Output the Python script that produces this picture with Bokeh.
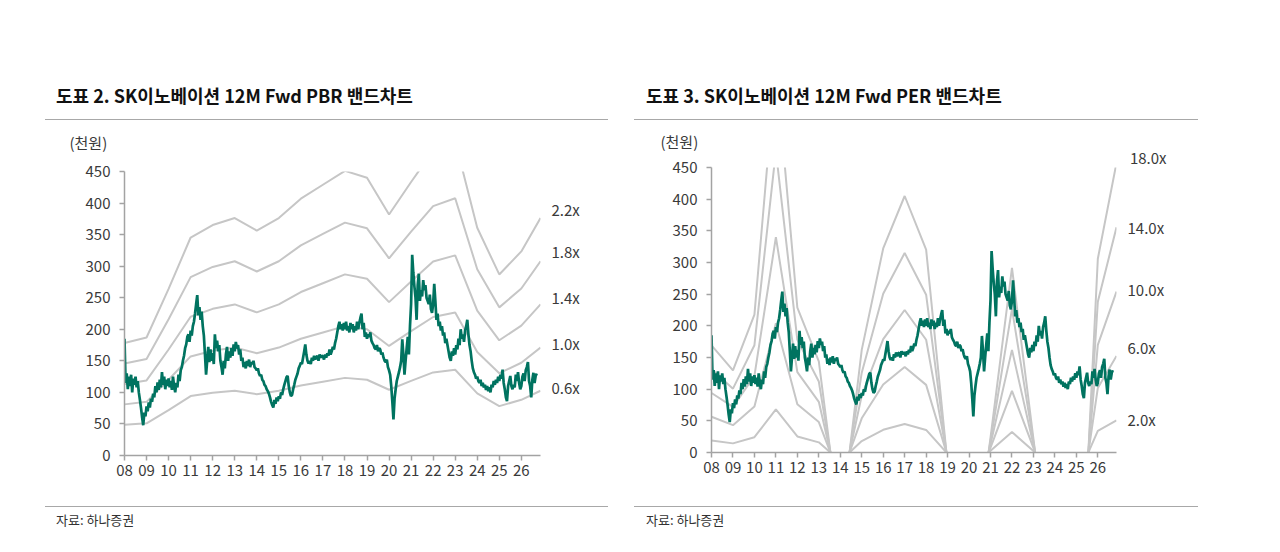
import numpy as np
from bokeh.plotting import figure
from bokeh.models import FixedTicker, Range1d, Div, LinearAxis, Title
from bokeh.layouts import row, column
from bokeh.embed import file_html
from bokeh.resources import INLINE

FONT = "Noto Sans CJK KR"

# ---------------- data ----------------
band_years = [2008, 2009, 2010, 2011, 2012, 2013, 2014, 2015, 2016, 2017,
              2018, 2019, 2020, 2021, 2022, 2023, 2024, 2025, 2026, 2026.87]
tick_years = list(range(2008, 2027))
tick_labels = ["08", "09", "10", "11", "12", "13", "14", "15", "16", "17",
               "18", "19", "20", "21", "22", "23", "24", "25", "26"]

# 12M fwd BPS (thousand won)
bps = [81, 85, 120, 157, 166, 171, 162, 171, 185, 195,
       205, 200, 173.6, 197, 219.5, 226.5, 164, 130.4, 147, 171]
pbr_multiples = [0.6, 1.0, 1.4, 1.8, 2.2]
pbr_labels = ["0.6x", "1.0x", "1.4x", "1.8x", "2.2x"]

# 12M fwd EPS (thousand won)
eps = [9.4, 7.2, 12.1, 34, 12.7, 8, -6.8, 9, 17.9, 22.5,
       17.8, -1, -13, 1.3, 16.2, 1.2, -13.8, -21.5, 17, 25.4]
per_multiples = [2, 6, 10, 14, 18]
per_labels = ["2.0x", "6.0x", "10.0x", "14.0x", "18.0x"]

# share price (thousand won), every 0.05 year from 2008.00
price_start = 2008.0
price_step = 0.05
p2008 = [185, 115, 130, 105, 125, 110, 128, 100, 122, 112, 125, 108, 118, 100, 88, 75, 60, 48, 68, 62]
p2009 = [78, 70, 84, 76, 90, 85, 98, 92, 110, 100, 116, 104, 120, 108, 132, 112, 125, 105, 120, 110]
p2010 = [122, 108, 118, 104, 125, 110, 100, 115, 108, 128, 118, 135, 140, 150, 158, 170, 176, 188, 192, 180]
p2011 = [198, 190, 205, 212, 225, 240, 254, 222, 235, 215, 228, 205, 190, 160, 128, 150, 172, 148, 168, 150]
p2012 = [162, 145, 192, 170, 182, 165, 175, 150, 140, 128, 150, 138, 160, 172, 150, 165, 155, 170, 158, 176]
p2013 = [165, 180, 170, 175, 160, 168, 150, 155, 140, 148, 138, 150, 142, 152, 140, 148, 145, 150, 140, 138]
p2014 = [135, 138, 130, 126, 128, 120, 118, 112, 110, 105, 102, 98, 92, 85, 80, 76, 88, 82, 92, 86]
p2015 = [94, 90, 100, 96, 105, 112, 118, 124, 126, 110, 100, 94, 96, 105, 112, 120, 125, 130, 138, 142]
p2016 = [147, 145, 155, 165, 176, 160, 150, 146, 150, 145, 155, 150, 158, 152, 156, 158, 150, 160, 155, 158]
p2017 = [157, 152, 160, 155, 162, 158, 168, 160, 165, 172, 168, 178, 185, 195, 205, 212, 200, 208, 198, 210]
p2018 = [200, 212, 198, 205, 195, 210, 200, 208, 195, 205, 198, 212, 200, 210, 218, 225, 200, 210, 188, 195]
p2019 = [185, 192, 188, 195, 182, 178, 175, 170, 168, 175, 165, 170, 168, 160, 163, 155, 150, 148, 152, 140]
p2020 = [135, 128, 110, 85, 57, 90, 105, 118, 125, 132, 140, 150, 184, 160, 128, 150, 170, 188, 160, 205]
p2021 = [240, 318, 290, 268, 250, 215, 270, 288, 245, 262, 252, 278, 262, 270, 250, 245, 240, 255, 232, 226]
p2022 = [240, 272, 245, 215, 225, 205, 212, 198, 205, 190, 195, 178, 185, 175, 165, 155, 150, 165, 158, 170]
p2023 = [160, 175, 168, 185, 175, 200, 185, 192, 180, 198, 205, 215, 192, 175, 165, 150, 138, 132, 128, 122]
p2024 = [125, 118, 115, 120, 110, 115, 108, 112, 104, 110, 102, 108, 100, 112, 108, 118, 112, 120, 115, 125]
p2025 = [118, 128, 122, 136, 115, 105, 92, 86, 110, 118, 126, 110, 105, 112, 108, 128, 118, 132, 115, 105]
p2026 = [110, 125, 130, 118, 135, 140, 148, 118, 110, 92, 120, 131, 115, 126, 130]

price = (p2008 + p2009 + p2010 + p2011 + p2012 + p2013 + p2014 + p2015 + p2016
         + p2017 + p2018 + p2019 + p2020 + p2021 + p2022 + p2023 + p2024 + p2025 + p2026)
price_t = price_start + np.arange(len(price)) * price_step

# label placement on the right-hand side (layout only)
pbr_label_y = [108, 177, 250, 324, 390]
per_label_y = [52, 166, 257, 356]

BAND_COLOR = "#c6c6c6"
PRICE_COLOR = "#007360"
AXIS_COLOR = "#a3a3a3"
TEXT_COLOR = "#3a3a3a"


def style_axis(ax):
    ax.axis_line_color = AXIS_COLOR
    ax.axis_line_width = 1.5
    ax.major_tick_line_color = AXIS_COLOR
    ax.major_tick_line_width = 1.5
    ax.major_tick_in = 0
    ax.major_tick_out = 5
    ax.minor_tick_line_color = None
    ax.major_label_text_font = FONT
    ax.major_label_text_font_size = "15px"
    ax.major_label_text_color = TEXT_COLOR


def small_title(text, align, offset, standoff):
    return Title(text=text, align=align, offset=offset, standoff=standoff,
                 text_font=FONT, text_font_size="15px", text_font_style="normal",
                 text_color=TEXT_COLOR)


def make_chart(base, multiples, label_texts, label_y, width, height,
               mb_left, mb_right, mb_top, mb_bottom):
    p = figure(width=width, height=height,
               x_range=Range1d(2008, 2026.87), y_range=Range1d(0, 450),
               output_backend="svg", toolbar_location=None,
               min_border_left=mb_left, min_border_right=mb_right,
               min_border_top=mb_top, min_border_bottom=mb_bottom)
    p.xgrid.visible = False
    p.ygrid.visible = False
    p.outline_line_color = None
    p.background_fill_color = "white"
    p.border_fill_color = "white"

    for m in multiples:
        p.line(band_years, [m * b for b in base], line_color=BAND_COLOR, line_width=2)
    p.line(price_t, price, line_color=PRICE_COLOR, line_width=2.7)

    p.xaxis.ticker = FixedTicker(ticks=tick_years)
    p.xaxis.major_label_overrides = {y: lab for y, lab in zip(tick_years, tick_labels)}
    p.yaxis.ticker = FixedTicker(ticks=list(range(0, 451, 50)))
    style_axis(p.xaxis[0])
    style_axis(p.yaxis[0])
    p.xaxis.major_label_standoff = 4
    p.yaxis.major_label_standoff = 9

    # band multiple labels at the right
    lab_axis = LinearAxis(ticker=FixedTicker(ticks=label_y),
                          major_label_overrides={t: s for t, s in zip(label_y, label_texts)})
    style_axis(lab_axis)
    lab_axis.axis_line_color = None
    lab_axis.major_tick_line_color = None
    lab_axis.major_tick_out = 0
    lab_axis.major_label_standoff = 11
    p.add_layout(lab_axis, "right")
    return p


left = make_chart(bps, pbr_multiples, pbr_labels, pbr_label_y,
                  604, 373, 124, 64, 45, 44)
left.add_layout(small_title(" ", "left", 0, -4), "above")
left.add_layout(small_title("(천원)", "left", -55, 0), "above")

right = make_chart(eps, per_multiples, per_labels[:4], per_label_y,
                   610, 373, 97, 108, 41, 47)
right.add_layout(small_title(per_labels[4], "right", -50, 0), "above")
right.add_layout(small_title("(천원)", "left", -51, -15), "above")


def title_div(text, width, line_left, line_w, text_left):
    html = ('<div style="position:relative;width:%dpx;height:116px;">'
            '<div style="position:absolute;left:%dpx;top:114px;width:%dpx;height:0px;'
            'border-top:1.5px solid #a8a8a8;"></div>'
            '<span style="position:absolute;left:%dpx;top:79px;white-space:nowrap;'
            'font-family:\'Noto Sans CJK KR\';font-weight:bold;font-size:18px;'
            'line-height:22px;color:#111;">%s</span></div>') % (width, line_left, line_w, text_left, text)
    return Div(text=html, width=width, height=116)


def source_div(width, line_left, line_w, text_left):
    html = ('<div style="position:relative;width:%dpx;height:40px;">'
            '<div style="position:absolute;left:%dpx;top:2px;width:%dpx;height:0px;'
            'border-top:1.5px solid #a8a8a8;"></div>'
            '<span style="position:absolute;left:%dpx;top:7px;white-space:nowrap;'
            'font-family:\'Noto Sans CJK KR\';font-size:13px;line-height:18px;color:#333;">'
            '자료: 하나증권</span></div>') % (width, line_left, line_w, text_left)
    return Div(text=html, width=width, height=40)


col_left = column(title_div("도표 2. SK이노베이션 12M Fwd PBR 밴드차트", 604, 40, 563, 51),
                  left, source_div(604, 40, 563, 51), spacing=0)
col_right = column(title_div("도표 3. SK이노베이션 12M Fwd PER 밴드차트", 610, 15, 564, 27),
                   right, source_div(610, 15, 564, 27), spacing=0)
layout = row(col_left, col_right, spacing=0)

open("out.html", "w").write(file_html(layout, INLINE))
